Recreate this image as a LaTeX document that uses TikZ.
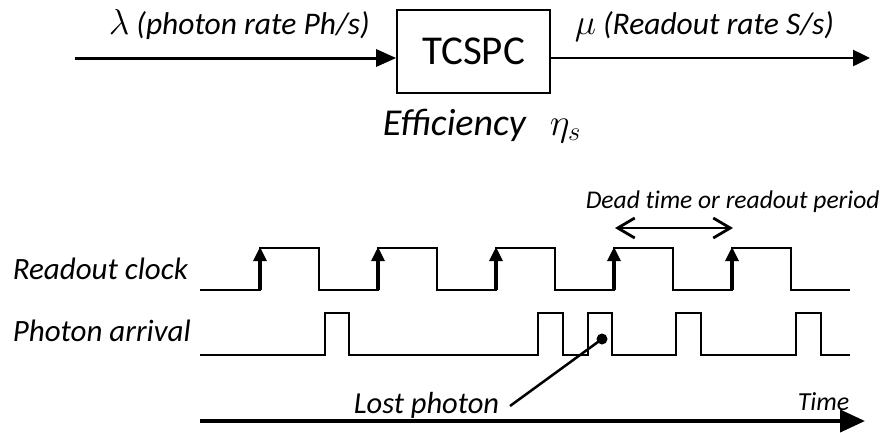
\RequirePackage{fix-cm}
\documentclass[tikz,border=0pt]{standalone}
\usepackage{fontspec}
\setmainfont{Carlito}
\usetikzlibrary{positioning, arrows.meta}
\newcommand{\toplbl}{\fontsize{31.5}{36}\selectfont\itshape}
\newcommand{\wavelbl}{\fontsize{31}{36}\selectfont\itshape}
\newcommand{\bigsym}[1]{{\fontsize{36}{40}\selectfont$#1$}}

\begin{document}
\begin{tikzpicture}[x=1pt, y=-1pt, >=Triangle, line width=1.6pt]
    \useasboundingbox (0,0) rectangle (888,432);
    % block
    \node[draw, line width=1.6pt, minimum width=153pt, minimum height=83pt, font=\fontsize{41}{48}\selectfont] (tcspc) at (473.5,51.5) {TCSPC};
    \coordinate (In) at (75,58);  \coordinate (Out) at (870,58);
    \draw[-{Triangle[length=20pt, width=17pt]}, line width=3pt] (In) -- (In -| tcspc.west);
    \draw[-{Triangle[length=17pt, width=16pt]}, line width=2.5pt] (Out -| tcspc.east) -- (Out);
    \node[anchor=base west, font=\toplbl, inner sep=0pt] (inlbl) at (108,34) {\bigsym{\lambda} (photon rate Ph/s)};
    \node[anchor=base west, font=\toplbl, inner sep=0pt] (outlbl) at (574,34) {\bigsym{\mu} (Readout rate S/s)};
    \node[anchor=base west, font=\fontsize{38}{44}\selectfont\itshape, inner sep=0pt] (eff) at (382,135) {Efficiency};
    \node[anchor=base west, font=\fontsize{38}{44}\selectfont, inner sep=0pt] (eta) at (549,135) {$\eta_s$};

    % timing
    \node[anchor=base west, font=\wavelbl, inner sep=0pt] (clklbl) at (12,279) {Readout clock};
    \node[anchor=base west, font=\wavelbl, inner sep=0pt] (phlbl) at (12,341) {Photon arrival};
    \draw (200,290) \foreach \t in {260,378,496,614,732} { -- (\t,290) -- (\t,248) -- (\t+59,248) -- (\t+59,290) } -- (850,290);
    \foreach \t in {260,378,496,614,732}
        \draw[-{Triangle[length=14pt, width=13pt]}, line width=3.2pt] (\t,290) -- (\t,247);
    \draw (200,355) \foreach \a/\b in {325/349,538/563,588/612,676/701,796/821} { -- (\a,355) -- (\a,313) -- (\b,313) -- (\b,355) } -- (850,355);

    \node[anchor=base west, font=\fontsize{25.5}{30}\selectfont\itshape, inner sep=0pt] (deadlbl) at (585,208) {Dead t\kern0pt ime or readout period};
    \coordinate (DeadL) at (615,228);  \coordinate (DeadR) at (733,228);
    \draw[{Straight Barb[length=17pt, width=20pt]}-{Straight Barb[length=17pt, width=20pt]}, line width=2.8pt] (DeadL) -- (DeadR);

    \coordinate (LostDot) at (602,339);  \coordinate (LostEnd) at (510,406);
    \fill (LostDot) circle (5.5pt);
    \draw[line width=2.5pt] (LostDot) -- (LostEnd);
    \node[anchor=base west, font=\fontsize{30.5}{36}\selectfont\itshape, inner sep=0pt] (lost) at (353,413) {Lost photon};

    \coordinate (TimeStart) at (200,421);  \coordinate (TimeEnd) at (865,421);
    \draw[-{Triangle[length=25pt, width=22pt]}, line width=4pt] (TimeStart) -- (TimeEnd);
    \node[anchor=base west, font=\fontsize{26}{30}\selectfont\itshape, inner sep=0pt] (timelbl) at (797,410) {Time};
\end{tikzpicture}
\end{document}
